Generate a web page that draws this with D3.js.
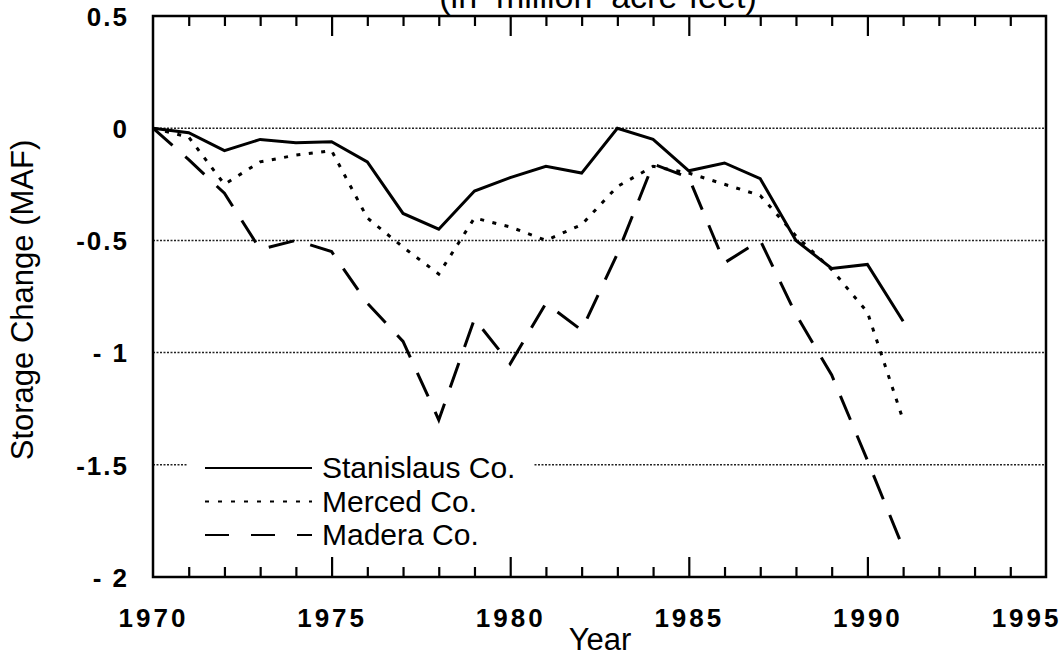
<!DOCTYPE html>
<html>
<head>
<meta charset="utf-8">
<script src="https://cdn.jsdelivr.net/npm/d3@7"></script>
<style>
  body { margin: 0; background: #fff; }
  text { font-family: "Liberation Sans", Arial, sans-serif; fill: #000; }
</style>
</head>
<body>
<script>
// values (million acre-feet)
var years = d3.range(1970, 1992);
var stanislaus = [0, -0.02, -0.1, -0.05, -0.065, -0.06, -0.15, -0.38, -0.45, -0.28, -0.22,
                  -0.17, -0.2, 0, -0.05, -0.19, -0.155, -0.225, -0.5, -0.625, -0.607, -0.86];
var merced = [0, -0.04, -0.25, -0.15, -0.12, -0.1, -0.4, -0.53, -0.65, -0.4, -0.44,
              -0.5, -0.43, -0.26, -0.17, -0.2, -0.25, -0.3, -0.48, -0.63, -0.82, -1.3];
var madera = [0, -0.14, -0.29, -0.54, -0.5, -0.55, -0.78, -0.95, -1.3, -0.85, -1.05,
              -0.78, -0.9, -0.56, -0.16, -0.22, -0.6, -0.5, -0.83, -1.1, -1.48, -1.87];
var seriesNames = ["Stanislaus Co.", "Merced Co.", "Madera Co."];
var xTicks = [1970, 1975, 1980, 1985, 1990, 1995];
var yTicks = [0.5, 0, -0.5, -1, -1.5, -2];
var yTickLabels = ["0.5", "0", "-0.5", "- 1", "-1.5", "- 2"];
var gridValues = [0, -0.5, -1, -1.5];

var width = 1064, height = 657;
var svg = d3.select("body").append("svg")
    .attr("width", width)
    .attr("height", height);

var x = d3.scaleLinear().domain([1970, 1995]).range([153, 1046]);
var y = d3.scaleLinear().domain([-2, 0.5]).range([577, 16]);

// grid
svg.selectAll(".grid")
    .data(gridValues)
    .enter()
    .append("line")
    .attr("class", "grid")
    .attr("x1", x(1970))
    .attr("x2", x(1995))
    .attr("y1", function(d) { return y(d); })
    .attr("y2", function(d) { return y(d); })
    .attr("stroke", "#222")
    .attr("stroke-width", 1.5)
    .attr("stroke-dasharray", "2,1.5");

// series
var line = d3.line()
    .x(function(d, i) { return x(years[i]); })
    .y(function(d) { return y(d); });

var styles = [
    {dash: null},
    {dash: "4,8.5"},
    {dash: "26,17"}
];
[stanislaus, merced, madera].forEach(function(s, i) {
    svg.append("path")
        .attr("d", line(s))
        .attr("fill", "none")
        .attr("stroke", "#000")
        .attr("stroke-width", 3)
        .attr("stroke-dasharray", styles[i].dash);
});

// legend
svg.append("rect")
    .attr("x", 188).attr("y", 446)
    .attr("width", 345).attr("height", 112)
    .attr("fill", "#fff");

var legend = svg.selectAll(".legend")
    .data(seriesNames)
    .enter()
    .append("g")
    .attr("class", "legend")
    .attr("transform", function(d, i) { return "translate(0," + (468 + i * 33.5) + ")"; });

legend.append("line")
    .attr("x1", 205).attr("x2", 312)
    .attr("stroke", "#000")
    .attr("stroke-width", function(d, i) { return i == 1 ? 2 : 2.2; })
    .attr("stroke-dasharray", function(d, i) { return i == 0 ? null : (i == 1 ? "4,9" : "24,22"); });

legend.append("text")
    .attr("x", 322)
    .attr("y", 10)
    .style("font-size", "30px")
    .text(function(d) { return d; });

// frame
svg.append("rect")
    .attr("x", x(1970)).attr("y", y(0.5))
    .attr("width", x(1995) - x(1970))
    .attr("height", y(-2) - y(0.5))
    .attr("fill", "none")
    .attr("stroke", "#000")
    .attr("stroke-width", 2.5);

// year ticks on top and bottom edges, pointing inward
var minorYears = d3.range(1971, 1995).filter(function(d) { return d % 5 != 0; });
var majorYears = [1975, 1980, 1985, 1990];

function tickAxes(axisFn, ty) {
    var g1 = svg.append("g")
        .attr("transform", "translate(0," + ty + ")")
        .call(axisFn(x).tickValues(minorYears).tickSize(-10).tickFormat(""));
    var g2 = svg.append("g")
        .attr("transform", "translate(0," + ty + ")")
        .call(axisFn(x).tickValues(majorYears).tickSize(-20).tickFormat(""));
    [g1, g2].forEach(function(g) {
        g.select(".domain").remove();
        g.selectAll("line").attr("stroke", "#000").attr("stroke-width", 2.2);
    });
}
tickAxes(d3.axisTop, y(0.5));
tickAxes(d3.axisBottom, y(-2));

// x tick labels
var xLab = svg.append("g")
    .attr("transform", "translate(0," + y(-2) + ")")
    .call(d3.axisBottom(x).tickValues(xTicks).tickSize(0).tickFormat(d3.format("d")));
xLab.select(".domain").remove();
xLab.selectAll("text")
    .attr("y", 50)
    .attr("dy", 0)
    .style("font-size", "26px")
    .style("font-weight", "bold")
    .style("letter-spacing", "3px")
    .attr("text-anchor", function(d) { return d == 1995 ? "end" : "middle"; })
    .attr("dx", function(d) { return d == 1995 ? 15 : 0; });

// y tick labels
var yLab = svg.append("g")
    .attr("transform", "translate(" + x(1970) + ",0)")
    .call(d3.axisLeft(y).tickValues(yTicks).tickSize(0).tickPadding(24)
        .tickFormat(function(d, i) { return yTickLabels[i]; }));
yLab.select(".domain").remove();
yLab.selectAll("text")
    .attr("dy", "0.36em")
    .style("font-size", "26px")
    .style("font-weight", "bold")
    .style("letter-spacing", "2px")
    .style("white-space", "pre")
    .attr("xml:space", "preserve");

// axis titles
svg.append("text")
    .attr("x", 600).attr("y", 650)
    .attr("text-anchor", "middle")
    .style("font-size", "31px")
    .text("Year");

svg.append("text")
    .attr("transform", "translate(33,300) rotate(-90)")
    .attr("text-anchor", "middle")
    .style("font-size", "31px")
    .text("Storage Change (MAF)");

// title, cut off by the top edge as in the scan
svg.append("text")
    .attr("x", 598).attr("y", 8)
    .attr("text-anchor", "middle")
    .style("font-size", "34px")
    .style("white-space", "pre")
    .attr("xml:space", "preserve")
    .text("(in  million  acre-feet)");
</script>
</body>
</html>
